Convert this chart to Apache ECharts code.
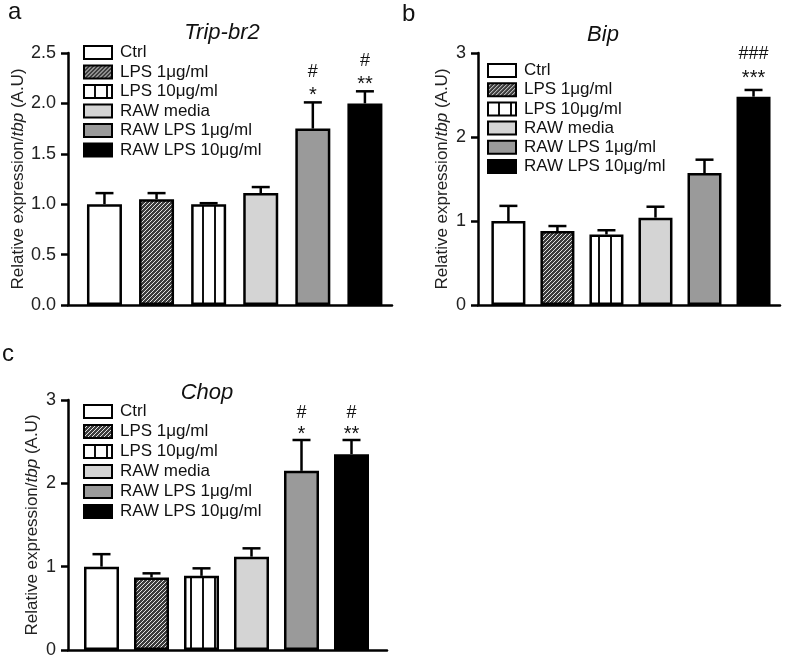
<!DOCTYPE html>
<html>
<head>
<meta charset="utf-8">
<script src="https://cdn.jsdelivr.net/npm/echarts@6/dist/echarts.min.js"></script>
<style>
  html, body { margin: 0; padding: 0; background: #fff; }
  #chart { width: 787px; height: 662px; }
</style>
</head>
<body>
<div id="chart"></div>
<script>
// groups (same in all three panels)
const categories = ['Ctrl', 'LPS 1μg/ml', 'LPS 10μg/ml', 'RAW media', 'RAW LPS 1μg/ml', 'RAW LPS 10μg/ml'];

// panel a - Trip-br2
const tripMean = [1.00, 1.05, 1.00, 1.11, 1.75, 2.00];
const tripSem = [0.11, 0.06, 0.01, 0.06, 0.26, 0.12];
const tripHash = ['', '', '', '', '#', '#'];
const tripStars = ['', '', '', '', '*', '**'];
const tripTicks = [0, 0.5, 1.0, 1.5, 2.0, 2.5];

// panel b - Bip
const bipMean = [1.00, 0.88, 0.84, 1.04, 1.57, 2.48];
const bipSem = [0.18, 0.06, 0.05, 0.13, 0.16, 0.08];
const bipHash = ['', '', '', '', '', '###'];
const bipStars = ['', '', '', '', '', '***'];
const bipTicks = [0, 1, 2, 3];

// panel c - Chop
const chopMean = [1.00, 0.87, 0.89, 1.12, 2.15, 2.35];
const chopSem = [0.15, 0.05, 0.09, 0.10, 0.37, 0.17];
const chopHash = ['', '', '', '', '#', '#'];
const chopStars = ['', '', '', '', '*', '**'];
const chopTicks = [0, 1, 2, 3];

const FONT = 'Liberation Sans, Arial, sans-serif';

// fill patterns for the hatched / striped bars
function hatchPattern() {
    const c = document.createElement('canvas');
    c.width = 4; c.height = 4;
    const ctx = c.getContext('2d');
    ctx.fillStyle = '#3c3c3c';
    ctx.fillRect(0, 0, 4, 4);
    ctx.strokeStyle = 'rgba(255,255,255,0.85)';
    ctx.lineWidth = 1;
    ctx.beginPath();
    ctx.moveTo(0, 4); ctx.lineTo(4, 0);
    ctx.moveTo(-1, 1); ctx.lineTo(1, -1);
    ctx.moveTo(3, 5); ctx.lineTo(5, 3);
    ctx.stroke();
    return { image: c, repeat: 'repeat' };
}
function stripePattern() {
    const c = document.createElement('canvas');
    c.width = 12; c.height = 4;
    const ctx = c.getContext('2d');
    ctx.fillStyle = '#ffffff';
    ctx.fillRect(0, 0, 12, 4);
    ctx.fillStyle = '#111';
    ctx.fillRect(10, 0, 2, 4);
    return { image: c, repeat: 'repeat' };
}

const fills = ['#ffffff', hatchPattern(), stripePattern(), '#d4d4d4', '#9a9a9a', '#000000'];

const panels = [
    { title: 'Trip-br2', letter: 'a', mean: tripMean, sem: tripSem, hash: tripHash, stars: tripStars, ticks: tripTicks,
      grid: { left: 68, top: 53, width: 324, height: 252 }, xMin: -0.70, xMax: 5.52, barW: 35, dec: 1,
      legend: { left: 83, top: 44, gap: 2.5 }, nameGap: 40, starOff: 12, hashOff: 30,
      titlePos: { x: 222, y: 22 }, letterPos: { x: 8, y: 0 } },
    { title: 'Bip', letter: 'b', mean: bipMean, sem: bipSem, hash: bipHash, stars: bipStars, ticks: bipTicks,
      grid: { left: 478, top: 53, width: 302, height: 252 }, xMin: -0.62, xMax: 5.54, barW: 34, dec: 0,
      legend: { left: 487, top: 62, gap: 2.2 }, nameGap: 27, starOff: 16, hashOff: 36,
      titlePos: { x: 603, y: 24 }, letterPos: { x: 402, y: 2 } },
    { title: 'Chop', letter: 'c', mean: chopMean, sem: chopSem, hash: chopHash, stars: chopStars, ticks: chopTicks,
      grid: { left: 68, top: 400, width: 319, height: 250 }, xMin: -0.67, xMax: 5.71, barW: 35, dec: 0,
      legend: { left: 83, top: 403, gap: 3 }, nameGap: 27, starOff: 11, hashOff: 27,
      titlePos: { x: 207, y: 382 }, letterPos: { x: 2, y: 342 } }
];

const axisLine = { show: true, onZero: false, lineStyle: { color: '#000', width: 2.5 } };

const option = {
    animation: false,
    backgroundColor: '#fff',
    title: [], legend: [], grid: [], xAxis: [], yAxis: [], series: []
};

panels.forEach((p, pi) => {
    option.grid.push(p.grid);
    option.title.push({
        text: p.title, left: p.titlePos.x, top: p.titlePos.y, textAlign: 'center', padding: 0,
        textStyle: { fontFamily: FONT, fontSize: 22, fontStyle: 'italic', fontWeight: 'normal', color: '#111' }
    });
    option.title.push({
        text: p.letter, left: p.letterPos.x, top: p.letterPos.y, padding: 0,
        textStyle: { fontFamily: FONT, fontSize: 24, fontWeight: 'normal', color: '#111' }
    });
    option.legend.push({
        data: categories, orient: 'vertical', left: p.legend.left, top: p.legend.top, padding: 0,
        itemGap: p.legend.gap, itemWidth: 28, itemHeight: 13, icon: 'rect', selectedMode: false,
        textStyle: { fontFamily: FONT, fontSize: 17, lineHeight: 17, color: '#111', padding: [0, 0, 0, 3] }
    });
    option.xAxis.push({
        gridIndex: pi, type: 'value', min: p.xMin, max: p.xMax,
        axisLine: axisLine, axisTick: { show: false }, axisLabel: { show: false }, splitLine: { show: false }
    });
    const lastTick = p.ticks[p.ticks.length - 1];
    option.yAxis.push({
        gridIndex: pi, type: 'value', min: p.ticks[0], max: lastTick, interval: p.ticks[1] - p.ticks[0],
        name: '{n|Relative expression/}{i|tbp}{n| (A.U)}',
        nameLocation: 'middle', nameGap: p.nameGap,
        nameTextStyle: {
            fontFamily: FONT, fontSize: 17, color: '#222',
            rich: {
                n: { fontFamily: FONT, fontSize: 17, color: '#222' },
                i: { fontFamily: FONT, fontSize: 17, color: '#222', fontStyle: 'italic' }
            }
        },
        axisLine: axisLine,
        axisTick: { show: true, length: 7, lineStyle: { color: '#000', width: 2.5 } },
        axisLabel: { fontFamily: FONT, fontSize: 18, color: '#222', margin: 12,
            formatter: v => v.toFixed(p.dec) },
        splitLine: { show: false }
    });

    categories.forEach((name, k) => {
        option.series.push({
            name: name, type: 'bar', xAxisIndex: pi, yAxisIndex: pi,
            barWidth: p.barW, barGap: '-100%',
            data: [[k, p.mean[k]]],
            itemStyle: { color: fills[k], borderColor: '#000', borderWidth: 2.5 },
            z: 2
        });
    });

    // error bars (upper only) + significance marks
    option.series.push({
        type: 'custom', xAxisIndex: pi, yAxisIndex: pi, z: 3,
        data: p.mean.map((m, k) => [k, m, p.sem[k]]),
        encode: { x: 0, y: 1 },
        renderItem: function (params, api) {
            const x = api.value(0), m = api.value(1), s = api.value(2);
            const a = api.coord([x, m]);
            const b = api.coord([x, m + s]);
            const st = { stroke: '#000', lineWidth: 2.5 };
            const children = [
                { type: 'line', shape: { x1: a[0], y1: a[1], x2: b[0], y2: b[1] }, style: st },
                { type: 'line', shape: { x1: b[0] - 9, y1: b[1], x2: b[0] + 9, y2: b[1] }, style: st }
            ];
            const i = params.dataIndex;
            if (p.stars[i]) {
                children.push({ type: 'text', x: b[0], y: b[1] - p.starOff + 5,
                    style: { text: p.stars[i], fontFamily: FONT, fontSize: 20, fill: '#111',
                        align: 'center', verticalAlign: 'middle' } });
            }
            if (p.hash[i]) {
                children.push({ type: 'text', x: b[0], y: b[1] - p.hashOff,
                    style: { text: p.hash[i], fontFamily: FONT, fontSize: 18, fill: '#111',
                        align: 'center', verticalAlign: 'middle' } });
            }
            return { type: 'group', children: children };
        }
    });
});

const chart = echarts.init(document.getElementById('chart'), null, { renderer: 'canvas' });
chart.setOption(option);
</script>
</body>
</html>
